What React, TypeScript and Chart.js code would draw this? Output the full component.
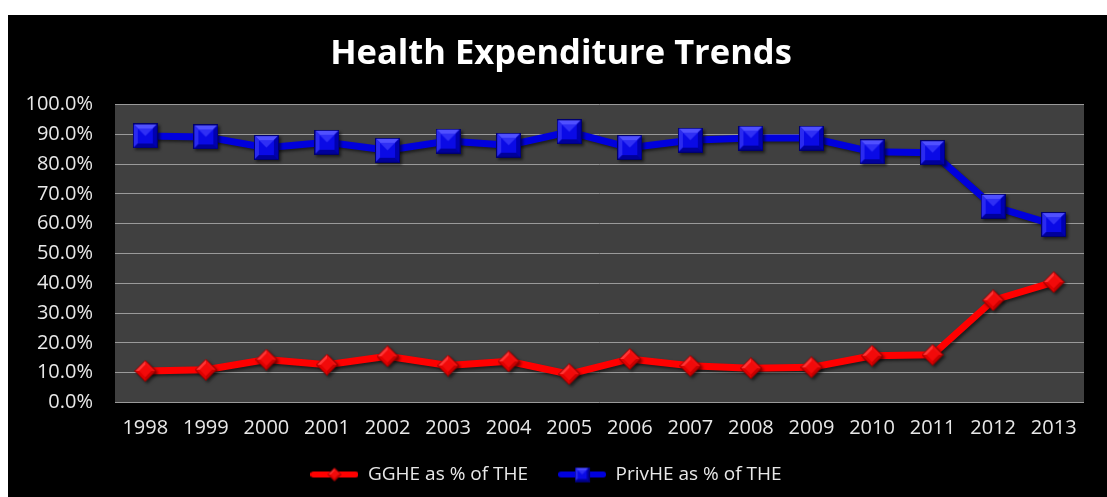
import React, { useEffect, useRef } from "react";
import { Chart, registerables } from "chart.js";

Chart.register(...registerables);

const years = ["1998","1999","2000","2001","2002","2003","2004","2005","2006","2007","2008","2009","2010","2011","2012","2013"];
const ggheValues = [10.6, 11.0, 14.4, 12.7, 15.5, 12.4, 13.8, 9.5, 14.6, 12.3, 11.5, 11.8, 15.7, 16.0, 34.3, 40.4];
const privValues = [89.4, 89.1, 85.5, 87.3, 84.6, 87.7, 86.3, 90.8, 85.5, 88.0, 88.7, 88.7, 84.1, 83.8, 65.8, 59.7];
const yTicks = [0, 10, 20, 30, 40, 50, 60, 70, 80, 90, 100];
const seriesLabels = ["GGHE as % of THE", "PrivHE as % of THE"];
const titleText = "Health Expenditure Trends";

function makeSquare(size: number): HTMLCanvasElement {
  const c = document.createElement("canvas");
  c.width = size; c.height = size;
  const g = c.getContext("2d")!;
  const b = Math.max(3, Math.round(size * 0.2));
  g.fillStyle = "#0000c8";
  g.fillRect(0, 0, size, size);
  g.fillStyle = "#5050ff";
  g.beginPath(); g.moveTo(0, 0); g.lineTo(size, 0); g.lineTo(size - b, b); g.lineTo(b, b); g.closePath(); g.fill();
  g.fillStyle = "#2a2af0";
  g.beginPath(); g.moveTo(0, 0); g.lineTo(b, b); g.lineTo(b, size - b); g.lineTo(0, size); g.closePath(); g.fill();
  g.fillStyle = "#0000b0";
  g.beginPath(); g.moveTo(size, 0); g.lineTo(size, size); g.lineTo(size - b, size - b); g.lineTo(size - b, b); g.closePath(); g.fill();
  g.fillStyle = "#00009a";
  g.beginPath(); g.moveTo(0, size); g.lineTo(b, size - b); g.lineTo(size - b, size - b); g.lineTo(size, size); g.closePath(); g.fill();
  g.fillStyle = "#0a0ae6";
  g.fillRect(b, b, size - 2 * b, size - 2 * b);
  g.fillStyle = "#2f2ff5";
  g.beginPath(); g.moveTo(b, b); g.lineTo(size - b, b); g.lineTo(size / 2, size / 2); g.closePath(); g.fill();
  g.strokeStyle = "#000070";
  g.lineWidth = 1;
  g.strokeRect(0.5, 0.5, size - 1, size - 1);
  return c;
}

function makeDiamond(size: number): HTMLCanvasElement {
  const c = document.createElement("canvas");
  c.width = size; c.height = size;
  const g = c.getContext("2d")!;
  const h = size / 2;
  const top = [h, 0.5], right = [size - 0.5, h], bottom = [h, size - 0.5], left = [0.5, h];
  const tri = (a: number[], bb: number[], col: string) => {
    g.fillStyle = col;
    g.beginPath(); g.moveTo(a[0], a[1]); g.lineTo(bb[0], bb[1]); g.lineTo(h, h); g.closePath(); g.fill();
  };
  tri(left, top, "#ff3535");
  tri(top, right, "#f01010");
  tri(right, bottom, "#c80000");
  tri(bottom, left, "#e00000");
  g.fillStyle = "#f20a0a";
  const k = size * 0.22;
  g.beginPath(); g.moveTo(h, k); g.lineTo(size - k, h); g.lineTo(h, size - k); g.lineTo(k, h); g.closePath(); g.fill();
  g.strokeStyle = "#900000";
  g.lineWidth = 1;
  g.beginPath(); g.moveTo(top[0], top[1]); g.lineTo(right[0], right[1]); g.lineTo(bottom[0], bottom[1]); g.lineTo(left[0], left[1]); g.closePath(); g.stroke();
  return c;
}

function makeLegendIcon(color: string, marker: HTMLCanvasElement, w: number, hgt: number): HTMLCanvasElement {
  const c = document.createElement("canvas");
  c.width = w; c.height = hgt;
  const g = c.getContext("2d")!;
  g.strokeStyle = color;
  g.lineWidth = 6;
  g.lineCap = "round";
  g.beginPath(); g.moveTo(3, hgt / 2); g.lineTo(w - 3, hgt / 2); g.stroke();
  g.drawImage(marker, (w - marker.width) / 2, (hgt - marker.height) / 2);
  return c;
}

const plotBgPlugin = {
  id: "plotBg",
  afterLayout(chart: any) {
    const t = chart.titleBlock;
    if (t) { t.left += 15; t.right += 15; }
  },
  beforeDraw(chart: any) {
    const { ctx, chartArea } = chart;
    ctx.save();
    ctx.fillStyle = "#404040";
    ctx.fillRect(chartArea.left, chartArea.top, chartArea.right - chartArea.left, chartArea.bottom - chartArea.top);
    ctx.restore();
  },
  beforeDatasetsDraw(chart: any) {
    const ctx = chart.ctx;
    ctx.save();
    ctx.shadowColor = "rgba(0,0,0,0.55)";
    ctx.shadowOffsetX = 2;
    ctx.shadowOffsetY = 2;
    ctx.shadowBlur = 3;
  },
  afterDatasetsDraw(chart: any) {
    chart.ctx.restore();
  },
};

const tickFont = { family: "Open Sans", size: 20 };

export default function App() {
  const ref = useRef<HTMLCanvasElement | null>(null);
  useEffect(() => {
    if (!ref.current) return;
    const blueSq = makeSquare(25);
    const redDia = makeDiamond(22);
    const blueLeg = makeLegendIcon("#0000dd", makeSquare(15), 48, 20);
    const redLeg = makeLegendIcon("#ff0000", makeDiamond(14), 48, 20);
    const chart = new Chart(ref.current, {
      type: "line",
      data: {
        labels: years,
        datasets: [
          {
            label: seriesLabels[0],
            data: ggheValues,
            borderColor: "#ff0000",
            backgroundColor: "#ff0000",
            borderWidth: 7,
            pointStyle: redDia as any,
            pointRadius: 11,
            tension: 0,
          },
          {
            label: seriesLabels[1],
            data: privValues,
            borderColor: "#0000dd",
            backgroundColor: "#0000dd",
            borderWidth: 7,
            pointStyle: blueSq as any,
            pointRadius: 12,
            tension: 0,
          },
        ],
      },
      options: {
        animation: false,
        responsive: true,
        maintainAspectRatio: false,
        layout: { padding: { left: 0, right: 23, top: 0, bottom: 3 } },
        plugins: {
          title: {
            display: true,
            text: titleText,
            color: "#ffffff",
            font: { family: "Open Sans", size: 34.5, weight: "bold" },
            padding: { top: 18, bottom: 30 },
          },
          legend: {
            position: "bottom",
            labels: {
              color: "#e8e8e8",
              font: { family: "Open Sans", size: 19 },
              usePointStyle: true,
              pointStyleWidth: 48,
              padding: 30,
              generateLabels: () => [
                { text: seriesLabels[0], pointStyle: redLeg as any, fillStyle: "#ff0000", strokeStyle: "#ff0000", lineWidth: 0, hidden: false, datasetIndex: 0, fontColor: "#e8e8e8" } as any,
                { text: seriesLabels[1], pointStyle: blueLeg as any, fillStyle: "#0000dd", strokeStyle: "#0000dd", lineWidth: 0, hidden: false, datasetIndex: 1, fontColor: "#e8e8e8" } as any,
              ],
            },
          },
          tooltip: { enabled: false },
        },
        scales: {
          x: {
            offset: true,
            afterFit: (scale: any) => { scale.height = scale.height - 19.5; },
            grid: { display: false, drawTicks: false },
            border: { display: false },
            ticks: { color: "#e8e8e8", font: tickFont, padding: 14, maxRotation: 0, autoSkip: false },
          },
          y: {
            min: 0,
            max: 100,
            afterFit: (scale: any) => { scale.width = 107; },
            afterBuildTicks: (scale: any) => { scale.ticks = yTicks.map((v) => ({ value: v })); },
            grid: { color: "#9a9a9a", lineWidth: 1, drawTicks: false },
            border: { display: false },
            ticks: {
              color: "#e8e8e8",
              font: tickFont,
              padding: 22,
              callback: (v: any) => Number(v).toFixed(1) + "%",
            },
          },
        },
      },
      plugins: [plotBgPlugin],
    });
    return () => chart.destroy();
  }, []);
  return (
    <div style={{ position: "fixed", left: 8, top: 15, width: 1099, height: 482, background: "#000000" }}>
      <canvas ref={ref} />
    </div>
  );
}
